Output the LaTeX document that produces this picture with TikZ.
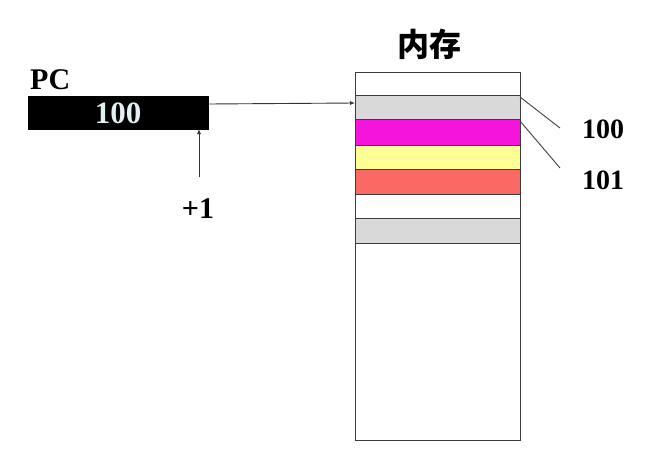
\documentclass[tikz,border=0pt]{standalone}
\usepackage{fontspec}
\setmainfont{Liberation Serif}
\newfontfamily\cjk{Noto Sans CJK SC}
\usetikzlibrary{arrows.meta}
\definecolor{cellgray}{RGB}{217,217,217}
\definecolor{cellmag}{RGB}{245,20,220}
\definecolor{cellyel}{RGB}{255,255,150}
\definecolor{cellred}{RGB}{250,105,100}
\definecolor{edge}{RGB}{60,60,60}
\definecolor{pctext}{RGB}{225,240,240}
\begin{document}
\begin{tikzpicture}[x=1pt,y=-1pt,
  cell/.style={draw=edge,line width=0.9pt,anchor=north west,inner sep=0pt,outer sep=0pt,minimum width=165pt},
  lbl/.style={font=\bfseries\fontsize{28}{28}\selectfont,inner sep=0pt},
  arr/.style={line width=0.9pt,draw=black!80,-{Latex[length=5pt,width=4pt]}},
  lead/.style={line width=0.9pt,draw=black!75}]
\useasboundingbox[fill=white] (0,0) rectangle (662,472);
% memory cells
\node[cell,fill=white,minimum height=23pt] (r1) at (355,72) {};
\node[cell,fill=cellgray,minimum height=24pt] (r2) at (355,95) {};
\node[cell,fill=cellmag,minimum height=26pt] (r3) at (355,119) {};
\node[cell,fill=cellyel,minimum height=24pt] (r4) at (355,145) {};
\node[cell,fill=cellred,minimum height=25pt] (r5) at (355,169) {};
\node[cell,fill=white,minimum height=24pt] (r6) at (355,194) {};
\node[cell,fill=cellgray,minimum height=25pt] (r7) at (355,218) {};
\node[cell,fill=white,minimum height=197pt] (r8) at (355,243) {};
\node[font=\cjk\bfseries\fontsize{32}{32}\selectfont,inner sep=0pt] (mem) at (429,44) {内存};
% PC register
\node[fill=black,draw=black,anchor=north west,inner sep=0pt,outer sep=0pt,minimum width=180pt,minimum height=33pt] (pc) at (28,96) {};
\node[lbl,text=pctext,font=\bfseries\fontsize{31}{31}\selectfont] (pcval) at (118,113) {100};
\node[lbl,font=\bfseries\fontsize{30}{30}\selectfont,anchor=base west] (pclbl) at (30,89) {PC};
\node[lbl,font=\bfseries\fontsize{30}{30}\selectfont] (inc) at (198,209) {+1};
\coordinate (incend) at (199,177);
\draw[arr] ([yshift=-8pt]pc.north east) -- ([yshift=-8pt]r2.north west);
\draw[arr] (incend) -- (incend |- pc.south);
% address labels
\node[lbl] (a100) at (603,129) {100};
\node[lbl] (a101) at (603,180) {101};
\coordinate (l1) at (560,128);
\coordinate (l2) at (560,168);
\draw[lead] ([yshift=-2pt]r2.north east) -- (l1);
\draw[lead] ([yshift=-2pt]r3.north east) -- (l2);
\end{tikzpicture}
\end{document}
